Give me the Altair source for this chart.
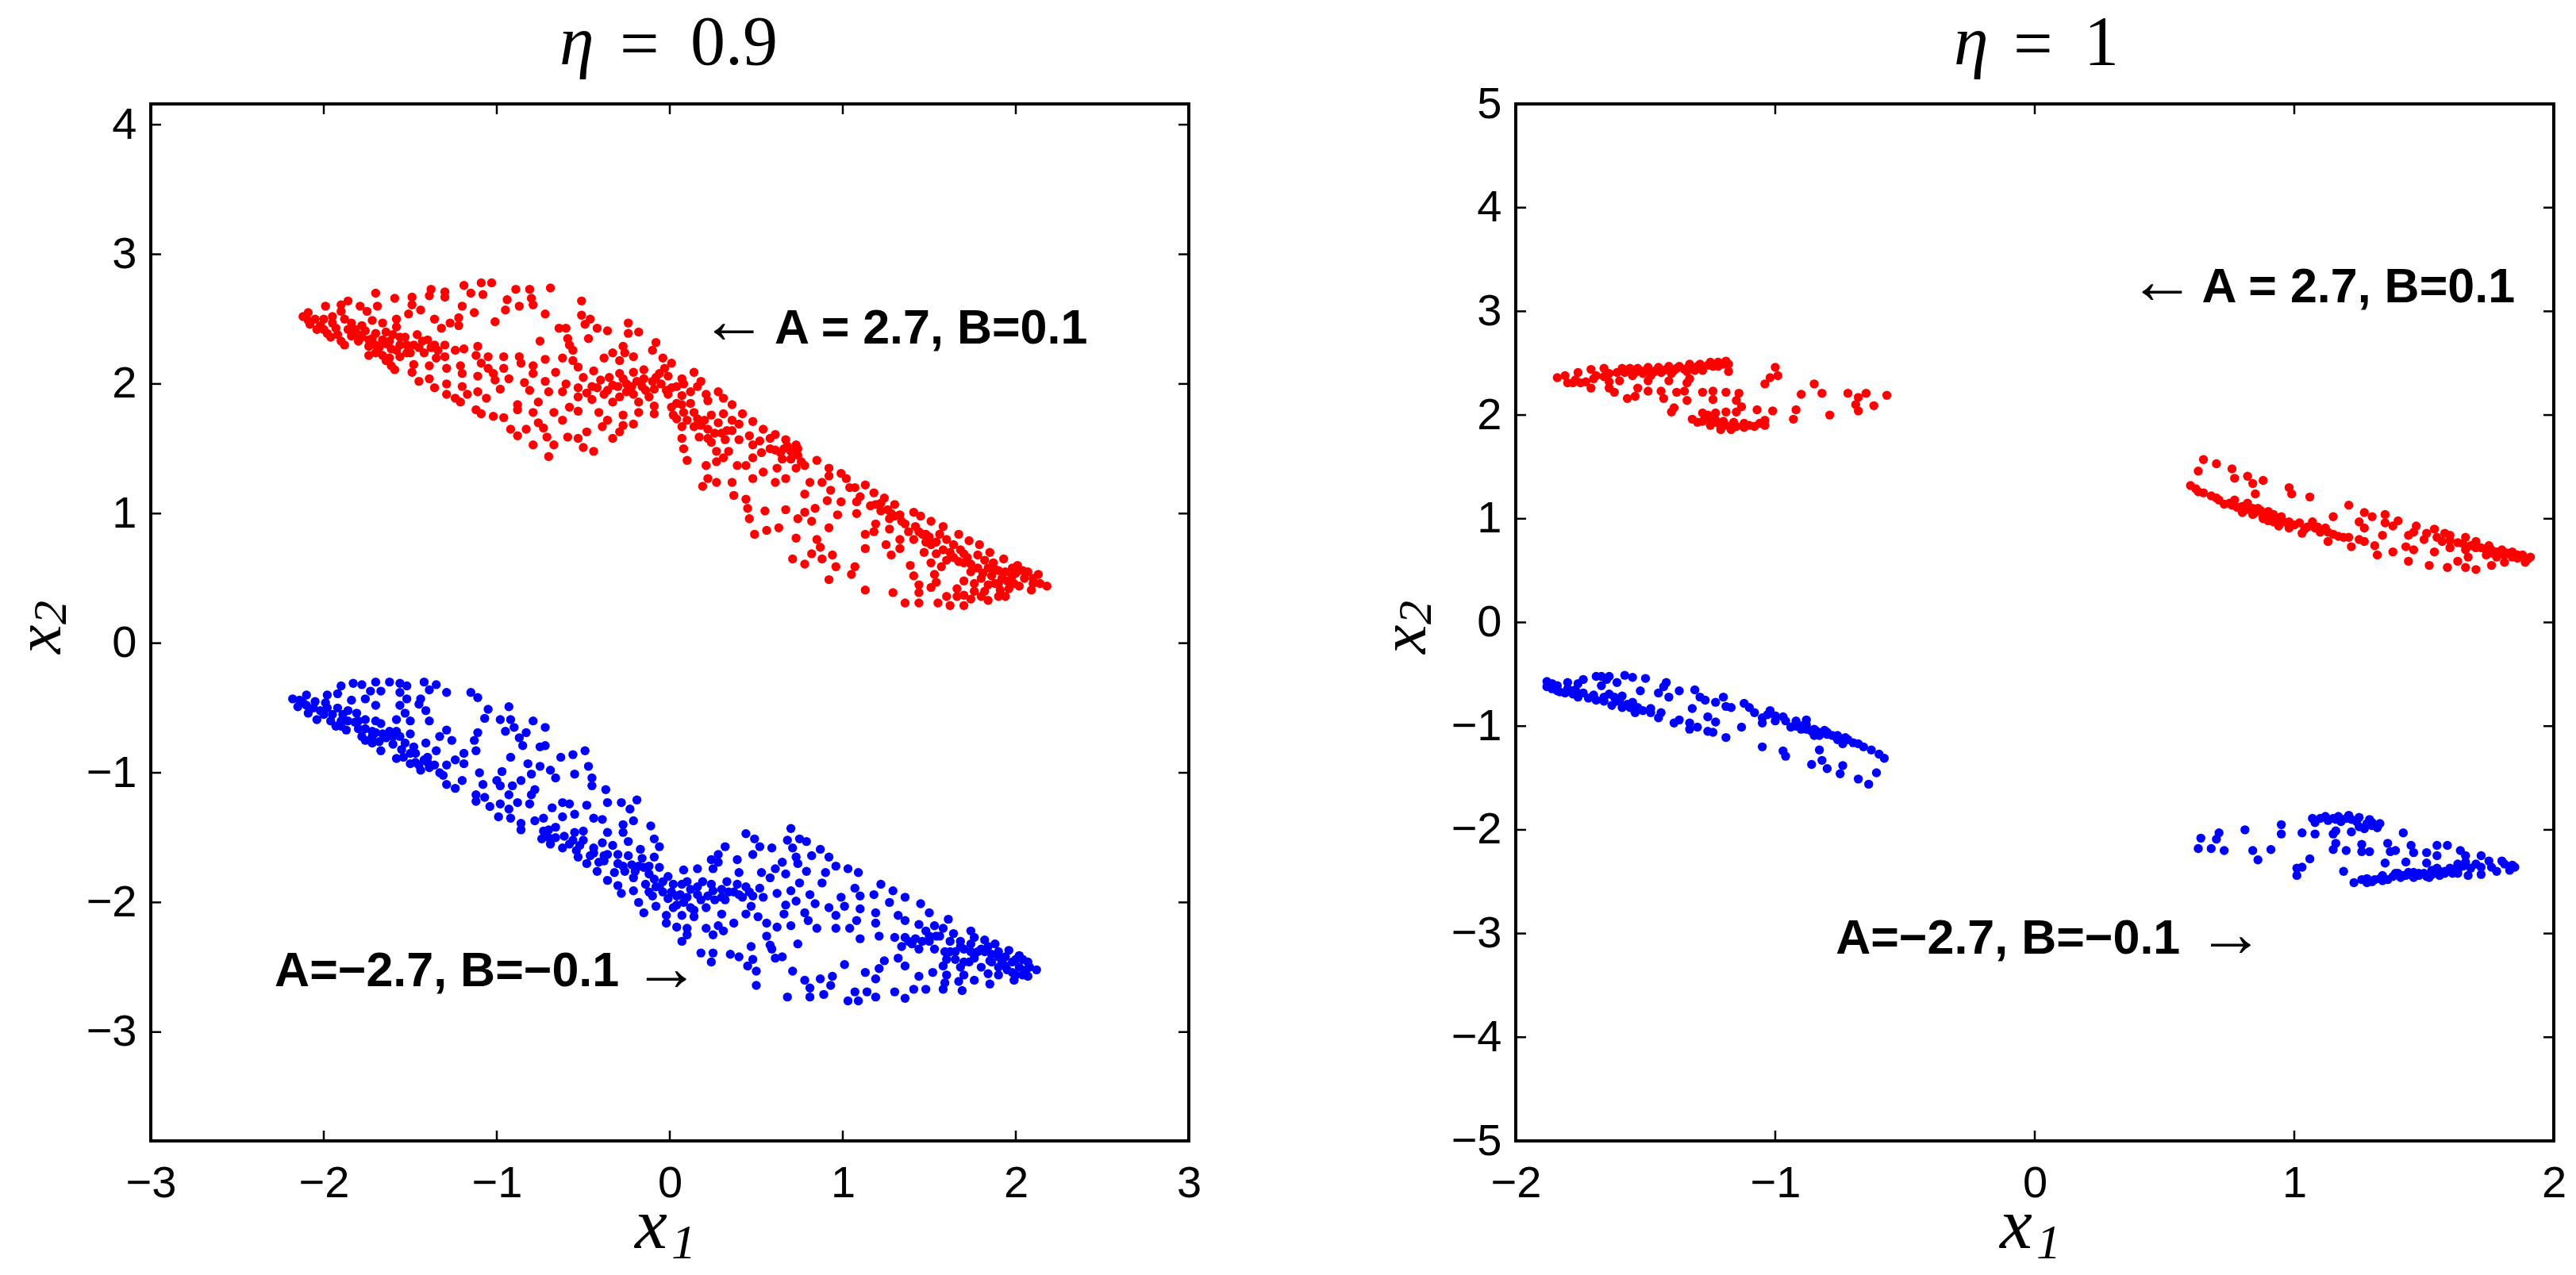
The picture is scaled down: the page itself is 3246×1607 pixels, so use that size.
import altair as alt
import pandas as pd

RED_LEFT = [
(-2.12,2.52),(-2.09,2.55),(-1.99,2.60),(-2.09,2.49),(-2.02,2.45),(-1.98,2.39),(-1.90,2.61),(-1.86,2.64),(-1.90,2.56),(-1.79,2.60),(-1.75,2.56),(-1.70,2.70),(-1.69,2.60),(-1.59,2.66),(-1.49,2.67),(-1.49,2.61),(-1.51,2.54),(-1.44,2.57),(-1.38,2.73),(-1.39,2.68),(-1.30,2.71),(-1.30,2.67),(-1.19,2.76),(-1.15,2.70),(-1.09,2.78),(-1.03,2.78),(-1.08,2.69),(-0.89,2.73),(-0.81,2.73),(-0.80,2.66),(-0.69,2.74),(-0.94,2.65),(-0.87,2.60),(-0.95,2.57),(-0.79,2.61),(-0.72,2.54),(-0.51,2.64),(-1.20,2.60),(-1.13,2.55),(-1.01,2.48),(-1.36,2.50),(-1.22,2.51),(-1.27,2.47),(-1.32,2.43),(-1.22,2.45),(-0.51,2.53),(-0.46,2.50),(-0.49,2.46),(-0.42,2.43),(-0.36,2.41),(-0.24,2.47),(-0.24,2.39),(-0.18,2.40),(-0.64,2.43),(-0.60,2.43),(-0.47,2.35),(-0.75,2.33),(-0.59,2.35),(-0.58,2.30),(-0.56,2.26),(-0.08,2.32),(-0.10,2.26),(-0.27,2.29),(-0.26,2.24),(-0.21,2.21),(-0.04,2.20),(0.01,2.16),(-0.33,2.24),(-0.38,2.20),(-0.29,2.18),(-0.62,2.20),(-0.72,2.19),(-0.56,2.18),(-0.53,2.13),(-0.44,2.10),
(-1.84,2.47),(-1.93,2.43),(-1.84,2.37),(-1.90,2.33),(-1.78,2.45),(-1.76,2.41),(-1.72,2.49),(-1.66,2.47),(-1.58,2.50),(-1.58,2.44),(-1.70,2.39),(-1.64,2.40),(-1.53,2.36),(-1.74,2.29),(-1.74,2.22),(-1.64,2.31),(-1.66,2.22),(-1.61,2.27),(-1.56,2.30),(-1.56,2.21),(-1.61,2.14),(-1.59,2.11),(-1.64,2.18),(-1.50,2.24),(-1.43,2.33),(-1.42,2.24),
(-1.49,2.09),(-1.39,2.14),(-1.35,2.20),(-1.30,2.30),(-1.24,2.26),(-1.19,2.27),(-1.11,2.29),(-1.12,2.22),(-1.05,2.21),(-1.09,2.16),(-0.96,2.21),(-0.87,2.21),(-0.86,2.16),(-0.79,2.14),(-0.96,2.12),(-1.05,2.12),(-1.29,2.12),(-1.30,2.21),(-1.21,2.14),(-1.20,2.08),(-1.11,2.06),(-1.02,2.08),(-1.01,2.03),(-0.93,2.04),(-0.79,2.08),(-0.84,2.01),(-0.72,2.02),(-0.66,2.09),(-1.39,2.04),(-1.45,2.02),(-1.29,2.00),(-1.36,1.97),(-1.20,1.98),(-1.29,1.92),(-1.24,1.89),(-1.17,1.92),(-1.11,1.94),(-1.06,1.89),(-1.21,1.86),(-0.98,1.96),(-0.81,1.95),(-0.70,1.94),(-0.62,1.94),(-0.53,1.97),(-0.53,1.90),(-0.45,1.98),(-0.45,1.88),(-0.33,1.99),(-0.38,1.92),(-0.33,1.86),(-0.29,1.90),(-0.21,1.92),(-0.18,1.86),(-0.16,1.98),(-0.10,2.02),(-0.06,2.08),(-0.01,2.06),(-0.15,2.11),(-0.21,2.09),(-0.29,2.08),(-0.27,2.04),(-0.19,2.02),(-0.09,1.96),(-0.01,1.92),(0.01,1.97),(0.07,1.91),(0.14,2.09),(0.07,2.04),(0.08,2.00),(0.18,2.02),(0.16,1.98),(0.21,1.92),(0.28,1.94),(0.31,1.89),(0.36,1.84),(0.22,1.87),(0.01,1.82),(0.07,1.84),(-0.09,1.83),(-0.18,1.78),(-0.09,1.77),(-0.27,1.76),(-0.36,1.72),(-0.41,1.78),(-0.53,1.79),(-0.58,1.82),(-0.62,1.72),(-0.67,1.78),(-0.79,1.78),(-0.76,1.86),(-0.88,1.84),(-0.88,1.80),(-0.96,1.74),(-1.02,1.75),(-1.12,1.80),(-1.09,1.77),(-0.76,1.70),(-0.83,1.65),(-0.92,1.65),(-0.88,1.60),(-0.73,1.66),(-0.79,1.53),(-0.71,1.59),(-0.67,1.53),(-0.70,1.44),(-0.59,1.59),(-0.53,1.58),(-0.48,1.63),(-0.50,1.51),(-0.44,1.48),(-0.33,1.58),(-0.27,1.68),(-0.39,1.67),(-0.29,1.63),(-0.21,1.69),
(0.04,1.73),(0.07,1.67),(0.16,1.73),(0.24,1.76),(0.31,1.77),(0.42,1.77),(0.40,1.69),(0.48,1.71),(0.54,1.65),(0.61,1.61),(0.33,1.64),(0.22,1.65),(0.14,1.67),(0.07,1.58),(0.08,1.50),(0.17,1.59),(0.24,1.55),(0.32,1.57),(0.40,1.57),(0.48,1.53),(0.53,1.47),(0.61,1.49),(0.73,1.53),(0.67,1.57),(0.74,1.45),(0.65,1.42),(0.48,1.43),(0.34,1.48),(0.27,1.48),(0.31,1.43),(0.10,1.41),(0.21,1.37),(0.27,1.40),(0.39,1.37),(0.44,1.37),(0.62,1.35),(0.73,1.35),(0.78,1.37),(0.85,1.41),(0.92,1.35),(0.99,1.31),(0.92,1.29),(1.02,1.27),(1.07,1.20),(1.13,1.22),(1.18,1.16),(1.24,1.12),(1.30,1.07),(1.19,1.07),(1.08,1.09),(0.99,1.09),(0.91,1.10),(0.93,1.18),(0.81,1.24),(0.88,1.24),(0.78,1.15),(0.67,1.27),(0.61,1.24),(0.54,1.32),(0.48,1.27),(0.36,1.24),(0.27,1.24),(0.22,1.27),(0.19,1.21),(0.37,1.14),(0.44,1.11),(0.45,1.04),(0.55,1.02),(0.46,0.96),(0.49,0.84),(0.56,0.87),(0.63,0.89),(0.67,1.03),(0.74,0.96),(0.82,0.94),(0.84,1.04),(0.78,1.01),(0.92,0.89),(0.97,0.99),(1.08,1.00),(1.19,0.92),(1.27,0.96),(1.33,0.99),(1.41,1.01),(1.45,0.98),(1.51,0.94),(1.58,0.90),(1.18,0.86),(1.27,0.88),(1.13,0.84),(1.13,0.73),(1.25,0.76),(1.28,0.68),(1.33,0.80),(1.41,0.80),(1.33,0.73),(1.48,0.84),(1.51,0.76),(1.47,0.70),(1.54,0.69),(1.64,0.76),(1.67,0.84),(1.73,0.79),(1.70,0.69),(1.79,0.76),(1.85,0.70),(1.93,0.65),(2.01,0.60),(2.13,0.53),(2.18,0.44),(2.09,0.41),(2.07,0.55),(1.99,0.46),(1.94,0.36),(1.91,0.41),(1.98,0.52),(1.88,0.57),(1.81,0.54),(1.67,0.63),(1.74,0.61),(1.87,0.62),(1.39,0.60),(1.41,0.52),(1.51,0.62),(1.57,0.59),(1.53,0.53),(1.54,0.47),(1.51,0.43),(1.44,0.45),(1.70,0.48),(1.84,0.45),(1.70,0.37),(1.76,0.40),(1.84,0.33),(1.70,0.29),(1.62,0.29),(1.55,0.31),(1.44,0.31),(1.36,0.31),(1.44,0.39),(1.29,0.39),(1.13,0.41),(0.92,0.49),(1.05,0.53),(0.94,0.68),(0.96,0.59),(0.88,0.65),(0.82,0.69),(0.87,0.74),(0.85,0.80),(0.73,0.81),(0.71,0.65),(0.78,0.61),(1.07,0.59),
(-2.05,2.50),(-2.00,2.50),(-1.95,2.47),(-1.95,2.52),(-1.88,2.50),(-1.86,2.42),(-1.80,2.38),(-1.80,2.33),(-1.72,2.35),(-1.68,2.28),(-1.62,2.33),(-1.58,2.26),(-1.52,2.30),(-1.48,2.15),(-1.45,2.28),(-1.38,2.28),(-1.34,2.26),
(-0.35,2.05),(-0.25,2.00),(-0.15,2.04),(-0.05,2.00),(-0.02,1.95),(-0.12,1.90),(-0.25,1.94),(-0.40,2.03),(-0.50,2.05),(-0.48,1.93),(0.12,1.85),(0.08,1.78),(0.04,1.85),(0.14,1.78),(0.20,1.72),(0.28,1.70),(0.36,1.72),(0.30,1.62),(0.22,1.58),
(0.58,1.58),(0.66,1.50),(0.70,1.48),(0.74,1.50),(0.70,1.42),(0.76,1.40),(1.04,1.20),(1.10,1.13),(1.16,1.06),(1.22,1.02),(1.28,1.00),(1.36,0.92),(1.42,0.90),(1.46,0.84),(1.50,0.82),(1.54,0.78),(1.58,0.72),(1.60,0.64),(1.62,0.70),(1.68,0.72),(1.72,0.66),(1.78,0.68),(1.82,0.64),(1.78,0.58),(1.84,0.58),(1.90,0.56),(1.94,0.55),(2.00,0.54),(2.05,0.50),(2.10,0.46),(2.02,0.44),(1.95,0.48),(1.88,0.46),(1.82,0.40),(1.76,0.46),(1.66,0.42),(1.60,0.36),
(-2.08,2.46),(-2.04,2.42),(-2.00,2.42),(-1.96,2.36),(-1.92,2.38),(-1.88,2.30),(-1.82,2.42),(-1.78,2.36),(-1.74,2.34),(-1.70,2.30),(-1.70,2.24),(-1.66,2.34),(-1.62,2.20),(-1.60,2.38),(-1.56,2.36),(-1.52,2.24),(-1.46,2.38),(-1.40,2.34),(-1.36,2.30),(-1.48,2.30),
(-0.60,2.00),(-0.42,1.97),(-0.36,1.95),(-0.30,1.98),(-0.22,1.98),(-0.14,1.95),(-0.08,2.05),(-0.03,2.12),(0.04,1.98),(0.12,1.94),(0.02,1.76),(0.10,1.72),(0.18,1.68),(0.26,1.62),(0.36,1.64),(0.46,1.60),(0.52,1.56),(0.58,1.50),(0.64,1.47),(0.68,1.52),
(1.22,1.08),(1.26,1.03),(1.30,0.98),(1.34,0.94),(1.38,0.86),(1.44,0.86),(1.48,0.78),(1.56,0.84),(1.60,0.80),(1.64,0.66),(1.70,0.62),(1.74,0.55),(1.80,0.50),(1.86,0.52),(1.92,0.50),(1.98,0.58),(2.04,0.56),(2.10,0.50),(2.14,0.46),(1.90,0.46),(1.96,0.42),(1.74,0.34),(1.80,0.36),(1.90,0.36),(1.66,0.36),
]

BLUE_LEFT = [
(-2.18,-0.43),(-2.10,-0.40),(-2.15,-0.49),(-2.09,-0.54),(-2.04,-0.59),(-1.99,-0.46),(-1.98,-0.40),(-1.90,-0.33),(-1.92,-0.39),(-1.83,-0.31),(-1.84,-0.44),(-1.78,-0.32),(-1.70,-0.30),(-1.73,-0.37),(-1.67,-0.37),(-1.70,-0.48),(-1.76,-0.43),(-1.62,-0.30),(-1.56,-0.31),(-1.52,-0.33),(-1.56,-0.38),(-1.42,-0.30),(-1.35,-0.32),(-1.39,-0.36),(-1.29,-0.38),(-1.15,-0.38),(-1.11,-0.42),(-1.52,-0.43),(-1.44,-0.43),(-1.56,-0.48),(-1.45,-0.47),(-1.53,-0.54),(-1.41,-0.52),(-1.58,-0.59),(-1.50,-0.60),(-1.39,-0.60),(-1.92,-0.50),(-1.89,-0.55),(-1.81,-0.54),(-1.93,-0.64),(-1.87,-0.67),(-1.82,-0.61),(-1.76,-0.59),(-1.67,-0.62),(-1.70,-0.69),(-1.76,-0.75),(-1.64,-0.73),(-1.67,-0.83),(-1.72,-0.77),(-1.58,-0.68),(-1.50,-0.70),(-1.53,-0.77),(-1.47,-0.85),(-1.58,-0.89),(-1.50,-0.93),(-1.42,-0.90),(-1.44,-0.98),(-1.39,-0.96),(-1.29,-0.67),(-1.33,-0.72),(-1.26,-0.75),(-1.11,-0.69),(-1.13,-0.75),(-1.12,-0.83),(-1.41,-0.77),(-1.35,-0.83),(-1.19,-0.85),(-1.24,-0.90),(-1.29,-0.94),(-1.19,-0.93),(-1.31,-1.02),(-1.29,-1.09),(-1.20,-1.06),(-1.24,-1.12),(-1.12,-1.17),(-1.07,-1.19),(-1.12,-1.22),(-1.04,-1.26),(-0.98,-1.24),(-0.99,-1.34),(-0.93,-1.28),(-0.92,-1.35),(-0.86,-1.39),(-0.86,-1.44),
(-1.05,-0.51),(-1.07,-0.58),(-0.93,-0.49),(-0.98,-0.59),(-0.92,-0.59),(-0.90,-0.65),(-0.79,-0.60),(-0.72,-0.65),(-0.95,-0.68),(-0.83,-0.69),(-0.87,-0.73),(-0.85,-0.79),(-0.75,-0.80),(-0.72,-0.79),(-0.63,-0.88),(-0.56,-0.86),(-0.49,-0.83),(-0.92,-0.88),(-0.82,-0.93),(-0.47,-0.95),(-1.10,-1.00),(-0.97,-0.99),(-1.00,-1.06),(-1.08,-1.09),(-0.98,-1.10),(-0.91,-1.10),(-0.86,-1.06),(-0.80,-1.01),(-0.75,-0.95),(-0.69,-0.98),(-0.66,-1.04),(-0.55,-1.01),(-0.45,-1.04),(-0.45,-1.10),(-0.37,-1.13),(-0.78,-1.13),(-0.80,-1.17),(-0.93,-1.17),(-0.88,-1.23),(-0.81,-1.24),(-0.68,-1.27),(-0.62,-1.23),(-0.58,-1.24),(-0.55,-1.32),(-0.48,-1.25),(-0.36,-1.23),(-0.28,-1.23),(-0.23,-1.28),(-0.19,-1.21),(-0.62,-1.34),(-0.73,-1.35),(-0.44,-1.35),(-0.39,-1.36),(-0.78,-1.37),(-0.21,-1.37),(-0.27,-1.40),(-0.11,-1.41),(-0.36,-1.46),(-0.27,-1.46),(-0.50,-1.45),(-0.55,-1.46),(-0.73,-1.45),(-0.66,-1.42),(-0.61,-1.49),(-0.74,-1.51),(-0.69,-1.55),(-0.62,-1.58),(-0.50,-1.52),(-0.39,-1.54),(-0.33,-1.56),(-0.24,-1.53),(-0.09,-1.51),(-0.06,-1.57),(-0.17,-1.59),(-0.44,-1.58),(-0.36,-1.63),(-0.30,-1.63),(-0.24,-1.64),(-0.16,-1.66),(-0.09,-1.65),(-0.53,-1.65),(-0.48,-1.70),(-0.41,-1.69),(-0.42,-1.76),(-0.32,-1.77),(-0.22,-1.71),(-0.15,-1.73),(-0.06,-1.73),(-0.09,-1.82),(-0.01,-1.80),(-0.21,-1.81),(-0.36,-1.83),(-0.30,-1.87),(-0.21,-1.91),(-0.28,-1.93),(-0.06,-1.88),(0.01,-1.92),(-0.10,-1.95),(-0.01,-1.97),(-0.18,-2.00),(-0.08,-2.03),(-0.15,-2.08),(-0.02,-2.10),(-0.02,-2.16),(0.04,-2.19),(0.10,-2.20),(0.10,-2.25),(0.07,-2.30),(0.04,-2.02),(0.07,-2.10),(0.14,-2.11),(0.21,-2.04),(0.30,-2.09),(0.10,-1.96),(0.16,-1.94),(0.07,-1.86),(0.08,-1.75),(0.16,-1.74),(0.19,-1.84),(0.25,-1.91),(0.24,-1.67),(0.28,-1.63),(0.32,-1.57),(0.28,-1.69),(0.39,-1.67),(0.40,-1.77),(0.25,-1.74),(0.33,-1.84),(0.39,-1.86),(0.44,-1.88),(0.37,-1.92),(0.32,-1.98),(0.42,-1.96),(0.48,-1.95),(0.54,-1.96),(0.47,-2.03),(0.44,-2.09),(0.51,-2.11),(0.37,-2.16),(0.28,-2.18),(0.31,-2.22),(0.21,-2.20),(0.25,-2.25),(0.56,-2.16),(0.62,-2.19),(0.70,-2.18),(0.56,-2.26),(0.58,-2.33),(0.74,-2.32),(0.47,-2.34),(0.59,-2.36),(0.18,-2.39),(0.25,-2.39),(0.24,-2.46),(0.35,-2.40),(0.40,-2.42),(0.48,-2.44),(0.45,-2.49),(0.50,-2.53),(0.50,-2.64),(0.61,-2.43),(0.65,-2.42),(0.71,-2.53),(0.78,-2.60),(0.87,-2.59),(0.94,-2.57),(0.93,-2.64),(0.81,-2.66),(0.89,-2.71),(0.81,-2.73),(0.68,-2.73),(1.07,-2.69),(1.14,-2.69),(1.19,-2.73),(1.03,-2.76),(1.09,-2.76),(1.01,-2.48),(1.13,-2.54),(1.19,-2.59),(1.21,-2.51),(1.24,-2.45),(1.32,-2.43),(1.36,-2.49),(1.30,-2.69),(1.36,-2.74),(1.41,-2.67),(1.48,-2.67),(1.44,-2.57),(1.52,-2.54),(1.58,-2.67),(1.59,-2.62),(1.69,-2.68),(1.67,-2.61),(1.70,-2.56),(1.76,-2.60),(1.85,-2.63),(1.84,-2.55),(1.90,-2.56),(1.99,-2.60),(2.07,-2.57),(2.12,-2.52),(2.07,-2.46),(2.02,-2.41),(1.96,-2.37),(1.94,-2.49),(1.85,-2.45),(1.88,-2.32),(1.82,-2.29),(1.76,-2.43),(1.65,-2.44),(1.73,-2.46),(1.58,-2.49),(1.59,-2.38),(1.65,-2.38),(1.53,-2.36),(1.74,-2.22),(1.76,-2.27),(1.68,-2.30),(1.64,-2.24),(1.58,-2.20),(1.61,-2.13),(1.53,-2.18),(1.50,-2.08),(1.45,-2.01),(1.36,-1.96),(1.29,-1.91),(1.22,-1.86),(1.27,-2.00),(1.32,-2.10),(1.36,-2.14),(1.44,-2.17),(1.19,-2.08),(1.19,-2.16),(1.21,-2.26),(1.30,-2.27),(1.36,-2.27),(1.42,-2.28),(1.44,-2.36),(1.48,-2.22),(1.10,-2.28),(1.04,-2.20),(0.96,-2.20),(0.85,-2.20),(0.80,-2.14),(0.78,-2.08),(0.96,-2.10),(1.10,-2.05),(1.08,-2.14),(1.01,-2.03),(0.92,-2.04),(0.84,-2.01),(0.81,-1.94),(0.73,-1.99),(0.66,-2.09),(0.67,-2.02),(0.70,-1.91),(0.62,-1.93),(0.75,-1.85),(0.88,-1.85),(0.90,-1.77),(0.79,-1.76),(0.67,-1.78),(0.53,-1.77),(0.61,-1.74),(0.58,-1.81),(0.65,-1.69),(0.52,-1.89),(0.96,-1.72),(1.03,-1.74),(1.09,-1.77),(1.07,-1.89),(0.99,-1.96),(1.18,-1.94),(1.10,-1.95),(0.44,-1.47),(0.49,-1.51),(0.52,-1.57),(0.59,-1.58),(0.48,-1.63),(0.70,-1.43),(0.68,-1.52),(0.75,-1.51),(0.71,-1.58),(0.79,-1.53),(0.73,-1.65),(0.82,-1.64),(0.87,-1.59),(0.92,-1.65),(0.74,-1.70),
(-2.12,-0.46),(-2.06,-0.50),(-2.00,-0.55),(-1.96,-0.60),(-1.90,-0.60),(-1.86,-0.52),(-1.80,-0.66),(-1.76,-0.66),(-1.72,-0.68),(-1.70,-0.60),(-1.62,-0.68),(-1.60,-0.78),(-1.55,-0.82),(-1.50,-0.85),(-1.47,-0.92),(-1.40,-0.88),(-1.36,-0.94),(-1.33,-1.00),
(-0.70,-1.44),(-0.66,-1.50),(-0.58,-1.55),(-0.54,-1.60),(-0.46,-1.64),(-0.38,-1.68),(-0.27,-1.72),(-0.18,-1.72),(-0.12,-1.78),(-0.14,-1.86),(-0.04,-1.84),(-0.04,-1.92),(0.02,-1.86),(0.04,-1.95),(0.12,-1.90),(0.18,-1.98),(0.24,-1.86),(0.30,-1.90),(0.26,-1.98),(0.12,-2.04),(0.02,-2.04),(0.08,-2.00),
(1.56,-2.26),(1.62,-2.30),(1.70,-2.36),(1.74,-2.32),(1.78,-2.38),(1.82,-2.38),(1.86,-2.40),(1.90,-2.42),(1.94,-2.42),(1.98,-2.46),(2.02,-2.50),(1.98,-2.54),(2.06,-2.52),(1.90,-2.50),(1.80,-2.50),(1.68,-2.50),(1.60,-2.44),(1.50,-2.30),(1.40,-2.32),(1.34,-2.34),(1.54,-2.26),
(-2.14,-0.44),(-2.10,-0.48),(-2.05,-0.45),(-2.02,-0.52),(-1.98,-0.50),(-1.95,-0.55),(-1.90,-0.64),(-1.86,-0.60),(-1.80,-0.60),(-1.78,-0.72),(-1.72,-0.72),(-1.68,-0.76),(-1.66,-0.70),(-1.60,-0.72),(-1.56,-0.72),(-1.54,-0.88),(-1.48,-0.80),(-1.45,-0.94),(-1.40,-0.92),
(-0.70,-1.50),(-0.56,-1.52),(-0.52,-1.56),(-0.44,-1.62),(-0.38,-1.64),(-0.30,-1.70),(-0.26,-1.76),(-0.20,-1.76),(-0.12,-1.72),(-0.08,-1.88),(-0.12,-1.92),(0.06,-1.94),(0.10,-1.84),(0.16,-1.88),(0.22,-1.95),(0.30,-1.96),(0.34,-1.92),(0.40,-1.94),(0.46,-1.92),(0.14,-2.06),
(1.68,-2.34),(1.74,-2.38),(1.80,-2.36),(1.84,-2.34),(1.86,-2.46),(1.90,-2.38),(1.95,-2.52),(2.00,-2.44),(2.04,-2.44),(2.08,-2.50),(2.04,-2.56),(2.00,-2.56),(1.92,-2.46),(1.70,-2.46),(1.62,-2.38),(1.50,-2.26),(1.46,-2.30),(1.38,-2.30),(1.60,-2.56),
]

RED_RIGHT = [
(-1.84,2.36),(-1.81,2.38),(-1.80,2.31),(-1.76,2.41),(-1.78,2.31),(-1.75,2.31),(-1.73,2.32),(-1.71,2.44),(-1.69,2.38),(-1.71,2.26),(-1.66,2.45),(-1.64,2.40),(-1.64,2.32),(-1.64,2.26),(-1.62,2.22),(-1.60,2.33),(-1.61,2.41),(-1.59,2.45),(-1.56,2.45),(-1.53,2.45),(-1.49,2.46),(-1.45,2.46),(-1.41,2.47),(-1.37,2.47),(-1.33,2.49),(-1.29,2.49),(-1.25,2.51),(-1.22,2.51),(-1.19,2.52),(-1.58,2.41),(-1.54,2.41),(-1.50,2.43),(-1.46,2.43),(-1.42,2.44),(-1.38,2.45),(-1.34,2.45),(-1.30,2.47),(-1.26,2.48),(-1.49,2.33),(-1.41,2.33),(-1.44,2.41),(-1.33,2.35),(-1.34,2.31),(-1.53,2.26),(-1.49,2.23),(-1.54,2.18),(-1.57,2.16),(-1.44,2.23),(-1.43,2.16),(-1.38,2.22),(-1.35,2.23),(-1.34,2.14),(-1.28,2.22),(-1.24,2.23),(-1.24,2.15),(-1.19,2.22),(-1.18,2.42),(-1.39,2.07),(-1.40,2.03),
(-1.32,1.96),(-1.27,1.98),(-1.23,2.02),(-1.19,2.03),(-1.30,1.93),(-1.25,1.90),(-1.21,1.86),(-1.17,1.86),(-1.12,1.88),(-1.08,1.89),(-1.04,1.90),(-1.04,1.95),(-1.23,1.95),(-1.15,2.03),(-1.13,2.08),(-1.07,2.05),(-1.01,2.04),(-0.92,2.05),(-0.93,1.96),(-0.79,2.00),(-1.00,2.46),(-0.99,2.38),(-1.02,2.36),(-1.04,2.30),(-0.85,2.30),(-0.90,2.20),(-0.82,2.21),(-0.72,2.21),(-0.65,2.21),(-0.68,2.17),(-0.57,2.19),(-0.62,2.09),(-0.69,2.10),(-0.68,2.04),(-1.14,2.21),(-1.15,2.14),
(0.65,1.57),(0.70,1.53),(0.63,1.46),(0.76,1.48),(0.77,1.39),(0.82,1.41),(0.84,1.34),(0.88,1.37),(0.85,1.24),(0.98,1.30),(0.99,1.24),(1.06,1.21),(0.60,1.32),(0.63,1.26),(0.68,1.22),(0.71,1.18),(0.75,1.15),(0.78,1.11),(0.82,1.09),(0.85,1.06),(0.89,1.04),(0.93,1.01),(0.96,0.97),(0.94,0.97),(0.82,1.15),(0.77,1.18),(0.86,1.10),(0.90,1.07),(0.95,1.02),(0.88,1.00),(0.94,0.93),(0.98,0.91),(1.03,0.86),(1.02,0.96),(1.07,0.97),(1.08,0.91),(1.13,0.87),(1.17,0.83),(1.21,0.82),(1.13,0.78),(1.22,0.73),(1.27,0.78),(1.31,0.74),(1.32,0.65),(1.38,0.68),(1.43,0.73),(1.46,0.70),(1.44,0.59),(1.52,0.55),(1.54,0.68),(1.59,0.53),(1.66,0.53),(1.70,0.51),(1.67,0.63),(1.63,0.59),(1.76,0.55),(1.81,0.58),(1.89,0.58),(1.21,1.13),(1.15,1.02),(1.27,1.06),(1.30,1.02),(1.35,1.04),(1.40,0.98),(1.35,0.96),(1.38,0.93),(1.25,0.97),(1.27,0.91),(1.34,0.84),(1.47,0.93),(1.46,0.87),(1.51,0.86),(1.54,0.90),(1.60,0.84),(1.57,0.78),(1.66,0.82),(1.60,0.72),(1.66,0.70),(1.70,0.78),(1.75,0.74),(1.80,0.70),(1.84,0.68),(1.91,0.63),(1.88,0.65),(1.81,0.65),(1.76,0.70),(1.70,0.72),(1.63,0.77),
(-1.55,2.38),(-1.51,2.40),(-1.47,2.41),(-1.43,2.43),(-1.39,2.43),(-1.35,2.44),(-1.31,2.43),(-1.28,2.46),(-1.24,2.47),(-1.20,2.49),(-1.77,2.34),(-1.70,2.35),(-1.66,2.37),
(-1.28,1.94),(-1.25,1.95),(-1.22,1.92),(-1.19,1.90),(-1.15,1.89),(-1.10,1.90),(-1.26,2.00),
(0.62,1.29),(0.65,1.25),(0.70,1.20),(0.73,1.14),(0.76,1.13),(0.80,1.12),(0.84,1.10),(0.87,1.08),(0.92,1.04),(0.84,1.04),(0.80,1.06),(0.90,0.98),(0.98,0.97),(1.00,0.94),(1.05,0.92),(1.10,0.87),(1.15,0.85),(1.19,0.82),(1.25,0.80),
(1.44,0.84),(1.50,0.80),(1.55,0.82),(1.60,0.79),(1.65,0.76),(1.68,0.74),(1.72,0.72),(1.74,0.70),(1.78,0.68),(1.82,0.67),(1.86,0.65),(1.90,0.61),(1.78,0.63),(1.74,0.65),(1.58,0.86),
(-1.48,2.38),(-1.40,2.40),(-1.34,2.42),(-1.28,2.43),(-1.22,2.47),(-1.18,2.49),(-1.20,1.94),(-1.16,1.93),(-1.12,1.92),(-1.28,2.02),(-1.06,1.92),(0.88,1.02),(0.92,0.97),(0.90,1.03),(0.98,0.93),(1.04,0.90),(1.09,0.92),(1.12,0.91),(1.76,0.67),(1.84,0.63),(1.86,0.62),
]

BLUE_RIGHT = [
(-1.88,-0.57),(-1.88,-0.62),(-1.86,-0.64),(-1.83,-0.67),(-1.80,-0.58),(-1.81,-0.68),(-1.78,-0.69),(-1.74,-0.55),(-1.76,-0.59),(-1.76,-0.72),(-1.72,-0.73),(-1.69,-0.52),(-1.67,-0.52),(-1.64,-0.52),(-1.67,-0.61),(-1.61,-0.58),(-1.65,-0.55),(-1.58,-0.51),(-1.55,-0.53),(-1.50,-0.54),(-1.42,-0.58),(-1.43,-0.62),(-1.45,-0.68),(-1.52,-0.66),(-1.41,-0.72),(-1.37,-0.66),(-1.31,-0.65),(-1.29,-0.72),(-1.27,-0.75),(-1.23,-0.77),(-1.20,-0.72),(-1.19,-0.81),(-1.32,-0.83),(-1.26,-0.91),(-1.23,-0.96),(-1.19,-1.11),(-1.69,-0.75),(-1.64,-0.69),(-1.59,-0.71),(-1.66,-0.76),(-1.63,-0.80),(-1.59,-0.82),(-1.55,-0.77),(-1.56,-0.82),(-1.54,-0.87),(-1.51,-0.85),(-1.48,-0.87),(-1.45,-0.92),(-1.44,-0.87),(-1.39,-0.97),(-1.37,-0.94),(-1.33,-0.97),(-1.33,-1.03),(-1.30,-1.01),(-1.26,-1.05),(-1.24,-1.06),(-1.61,-0.76),
(-1.12,-0.78),(-1.17,-0.82),(-1.08,-0.87),(-1.02,-0.85),(-1.05,-0.92),(-1.05,-0.97),(-1.00,-0.95),(-0.97,-0.91),(-0.92,-0.95),(-0.94,-1.01),(-0.89,-0.99),(-0.86,-1.05),(-0.81,-1.04),(-0.83,-1.09),(-0.78,-1.09),(-0.74,-1.17),(-0.73,-1.11),(-0.68,-1.17),(-0.63,-1.23),(-0.58,-1.31),(-1.13,-1.01),(-1.05,-1.20),(-0.97,-1.24),(-0.96,-1.29),(-0.83,-1.23),(-0.86,-1.37),(-0.82,-1.33),(-0.80,-1.41),(-0.74,-1.38),(-0.75,-1.46),(-0.68,-1.51),(-0.64,-1.56),(-0.61,-1.45),
(0.81,-2.00),(0.95,-1.95),(0.95,-2.04),(0.64,-2.08),(0.71,-2.03),(0.70,-2.09),(0.63,-2.18),(0.68,-2.18),(0.73,-2.20),(0.84,-2.20),(0.91,-2.19),(0.86,-2.29),(1.03,-2.03),(1.08,-2.04),(1.15,-2.04),(1.16,-2.01),(1.06,-2.28),(1.03,-2.36),(1.01,-2.44),(1.01,-2.37),(1.19,-2.40),(1.16,-2.13),(1.15,-2.19),(1.20,-2.20),(1.26,-2.14),(1.26,-2.21),(1.29,-2.21),(1.36,-2.13),(1.37,-2.21),(1.39,-2.20),(1.35,-2.32),(1.43,-2.31),(1.51,-2.32),(1.42,-2.03),(1.45,-2.15),(1.46,-2.22),(1.51,-2.22),(1.55,-2.25),(1.55,-2.15),(1.59,-2.15),(1.64,-2.20),(1.66,-2.25),(1.72,-2.25),(1.63,-2.33),(1.66,-2.31),
(1.07,-1.89),(1.12,-1.87),(1.17,-1.87),(1.21,-1.86),(1.25,-1.88),(1.29,-1.90),(1.33,-1.94),(1.32,-1.98),(1.27,-1.99),(1.22,-2.02),(1.18,-1.92),(1.13,-1.91),(1.08,-1.93),
(1.23,-2.51),(1.28,-2.51),(1.31,-2.48),(1.36,-2.48),(1.41,-2.46),(1.46,-2.46),(1.51,-2.45),(1.56,-2.44),(1.61,-2.42),(1.48,-2.42),(1.58,-2.40),(1.63,-2.39),(1.68,-2.37),(1.67,-2.44),(1.72,-2.43),(1.78,-2.40),(1.72,-2.36),(1.75,-2.30),(1.80,-2.30),(1.84,-2.34),(1.85,-2.36),(1.83,-2.39),(1.39,-2.42),(1.44,-2.41),(1.53,-2.39),
(-1.86,-0.59),(-1.84,-0.61),(-1.80,-0.64),(-1.77,-0.65),(-1.74,-0.68),(-1.70,-0.70),(-1.66,-0.72),(-1.62,-0.72),(-1.60,-0.76),(-1.57,-0.79),(-1.53,-0.82),(-1.48,-0.83),
(-1.00,-0.90),(-0.96,-0.95),(-0.92,-1.00),(-0.88,-1.03),(-0.84,-1.05),(-0.80,-1.08),(-0.76,-1.13),(-0.72,-1.13),(-0.70,-1.16),(-0.66,-1.20),(-0.60,-1.27),(-0.90,-1.03),(-0.85,-1.09),
(1.10,-1.89),(1.15,-1.89),(1.20,-1.89),(1.24,-1.92),(1.28,-1.94),(1.25,-1.97),(1.30,-1.93),
(1.26,-2.48),(1.33,-2.47),(1.38,-2.45),(1.43,-2.44),(1.48,-2.44),(1.53,-2.43),(1.58,-2.42),(1.63,-2.42),(1.34,-2.44),(1.40,-2.42),(1.46,-2.41),(1.55,-2.37),(1.60,-2.37),(1.65,-2.35),(1.28,-2.47),(1.70,-2.33),(1.76,-2.36),(1.81,-2.33),
(-1.84,-0.66),(-1.78,-0.66),(-0.92,-0.97),(-0.88,-0.99),(-0.85,-1.03),(-0.80,-1.06),(-0.76,-1.09),(-0.88,-0.94),(-1.03,-0.89),(-1.10,-0.82),(1.42,-2.44),(1.50,-2.42),(1.56,-2.40),(1.62,-2.38),(1.52,-2.46),(1.30,-2.50),(1.34,-2.49),(1.16,-1.90),(1.22,-1.90),(1.30,-1.96),
]

LEFT_X_TICKS = [-3, -2, -1, 0, 1, 2, 3]
LEFT_Y_TICKS = [-3, -2, -1, 0, 1, 2, 3, 4]
RIGHT_X_TICKS = [-2, -1, 0, 1, 2]
RIGHT_Y_TICKS = [-5, -4, -3, -2, -1, 0, 1, 2, 3, 4, 5]
LEFT_X_DOMAIN = [-3, 3]
LEFT_Y_DOMAIN = [-3.84, 4.16]
RIGHT_X_DOMAIN = [-2, 2]
RIGHT_Y_DOMAIN = [-5, 5]

W, H = 1308, 1307
SANS, SERIF = "Liberation Sans", "Liberation Serif"
RED, BLUE = "#ff0000", "#0000ff"


def row(**kw):
    return pd.DataFrame([kw])


def label(text, x, y, size, style="normal", angle=0, font=SERIF):
    return alt.Chart(row(t=text)).mark_text(
        font=font, fontSize=size, fontStyle=style, align="left",
        baseline="alphabetic", angle=angle, color="black",
    ).encode(text="t:N", x=alt.value(x), y=alt.value(y))


def panel(red, blue, xdom, ydom, xticks, yticks, title_value, title_pos, notes):
    xs = alt.Scale(domain=xdom, nice=False, zero=False)
    ys = alt.Scale(domain=ydom, nice=False, zero=False)
    xax = alt.Axis(values=xticks, format="d", ticks=False, domain=False, grid=False, title=None,
                   labelFont=SANS, labelFontSize=56, labelColor="black", labelPadding=26, labelFlush=False)
    yax = alt.Axis(values=yticks, format="d", ticks=False, domain=False, grid=False, title=None,
                   labelFont=SANS, labelFontSize=56, labelColor="black", labelPadding=18, labelFlush=False)
    layers = []
    for pts, colour in ((red, RED), (blue, BLUE)):
        df = pd.DataFrame(pts, columns=["x1", "x2"])
        layers.append(alt.Chart(df).mark_circle(size=130, opacity=1, color=colour).encode(
            x=alt.X("x1:Q", scale=xs, axis=xax), y=alt.Y("x2:Q", scale=ys, axis=yax)))
    xt = pd.DataFrame({"v": xticks})
    yt = pd.DataFrame({"v": yticks})
    for a, b in ((0, 13), (H - 13, H)):
        layers.append(alt.Chart(xt).mark_rule(color="black", strokeWidth=2.5).encode(
            x=alt.X("v:Q", scale=xs, axis=xax), y=alt.value(a), y2=alt.value(b)))
    for a, b in ((0, 13), (W - 13, W)):
        layers.append(alt.Chart(yt).mark_rule(color="black", strokeWidth=2.5).encode(
            y=alt.Y("v:Q", scale=ys, axis=yax), x=alt.value(a), x2=alt.value(b)))
    for text, nx, ny, face, size, base in notes:
        layers.append(alt.Chart(row(t=text, nx=nx, ny=ny)).mark_text(
            font=face[0], fontWeight=face[1], fontSize=size, align="left" if base == "alphabetic" else "center",
            baseline=base, color="black").encode(
            text="t:N", x=alt.X("nx:Q", scale=xs, axis=xax), y=alt.Y("ny:Q", scale=ys, axis=yax)))
    eta_x, eq_x, val_x = title_pos
    layers += [
        label("η", eta_x, -50, 88, "italic"),
        label("=", eq_x, -47, 88),
        label(title_value, val_x, -50, 88),
        label("x", 610, 1442, 92, "italic"),
        label("1", 656, 1455, 62, "italic"),
        label("x", -114, 693, 82, "italic", 270),
        label("2", -107, 656, 60, "italic", 270),
    ]
    return alt.layer(*layers).properties(width=W, height=H)


BOLD = (SANS, "bold")
ARROW = (SERIF, "normal")
left = panel(RED_LEFT, BLUE_LEFT, LEFT_X_DOMAIN, LEFT_Y_DOMAIN, LEFT_X_TICKS, LEFT_Y_TICKS, "0.9", (515, 591, 680), [
    ("A = 2.7, B=0.1", 0.605, 2.31, BOLD, 61, "alphabetic"),
    ("←", 0.37, 2.47, ARROW, 84, "middle"),
    ("A=−2.7, B=−0.1", -2.284, -2.648, BOLD, 61, "alphabetic"),
    ("→", -0.02, -2.525, ARROW, 84, "middle"),
])
right = panel(RED_RIGHT, BLUE_RIGHT, RIGHT_X_DOMAIN, RIGHT_Y_DOMAIN, RIGHT_X_TICKS, RIGHT_Y_TICKS, "1", (552, 627, 716), [
    ("A = 2.7, B=0.1", 0.644, 3.084, BOLD, 61, "alphabetic"),
    ("←", 0.491, 3.27, ARROW, 84, "middle"),
    ("A=−2.7, B=−0.1", -0.767, -3.198, BOLD, 61, "alphabetic"),
    ("→", 0.755, -3.026, ARROW, 84, "middle"),
])

chart = alt.hconcat(left, right, spacing=412, bounds="flush").configure_view(
    stroke="black", strokeWidth=4
).properties(background="white", padding={"left": 0, "top": 1, "right": 0, "bottom": 0})

chart.save("out.html", embed_options={"renderer": "svg", "actions": False})
